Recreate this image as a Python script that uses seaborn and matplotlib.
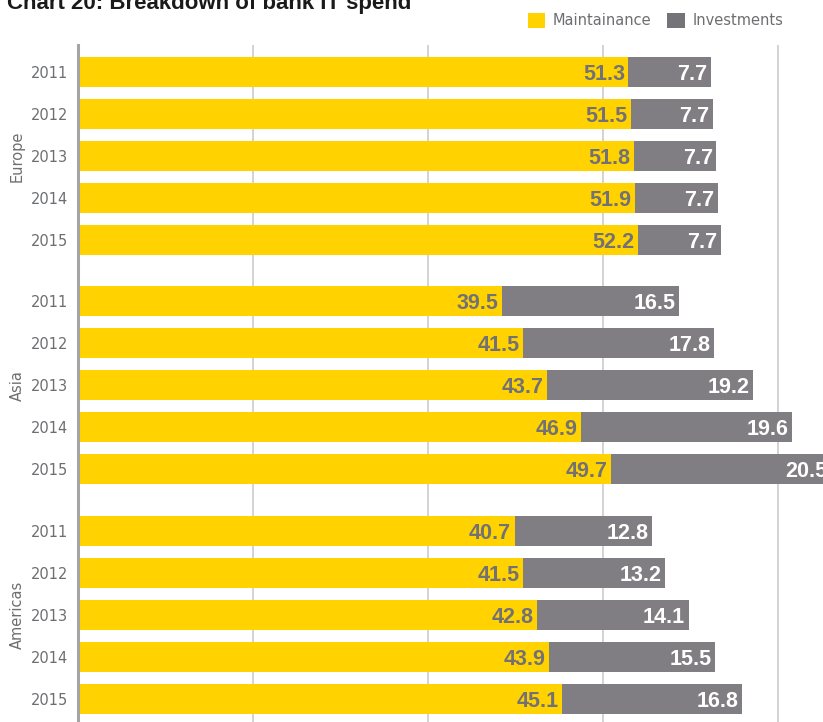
import numpy as np
import pandas as pd
import matplotlib
matplotlib.use("Agg")
import matplotlib.pyplot as plt
from matplotlib.patches import Patch
import seaborn as sns

# ---- data -------------------------------------------------------------
regions = ["Europe", "Asia", "Americas"]
years = ["2011", "2012", "2013", "2014", "2015"]
maintenance_europe = [51.3, 51.5, 51.8, 51.9, 52.2]
investments_europe = [7.7, 7.7, 7.7, 7.7, 7.7]
maintenance_asia = [39.5, 41.5, 43.7, 46.9, 49.7]
investments_asia = [16.5, 17.8, 19.2, 19.6, 20.5]
maintenance_americas = [40.7, 41.5, 42.8, 43.9, 45.1]
investments_americas = [12.8, 13.2, 14.1, 15.5, 16.8]
series_labels = ["Maintainance", "Investments"]
title = "Chart 20: Breakdown of bank IT spend"

# ---- styling ----------------------------------------------------------
YELLOW = "#FFD200"
GRAY = "#807E83"
LEGEND_GRAY = "#747378"
TEXT_GRAY = "#6D6E71"
GRID = "#D0D0D0"
GROUP_STEP = 5.46          # vertical distance between region blocks

sns.set_theme(style="white")
plt.rcParams["font.family"] = ["DejaVu Sans"]

maint = [maintenance_europe, maintenance_asia, maintenance_americas]
inv = [investments_europe, investments_asia, investments_americas]
rows = []
for gi, region in enumerate(regions):
    for yi, year in enumerate(years):
        m, i = maint[gi][yi], inv[gi][yi]
        rows.append(dict(region=region, year=year, pos=gi * GROUP_STEP + yi,
                         maintenance=m, investments=i, total=m + i))
df = pd.DataFrame(rows)

fig = plt.figure(figsize=(8.23, 7.22), dpi=100)
ax = fig.add_axes([78 / 823, 0.0, 745 / 823, 1 - 45 / 722])

# stacked bars: full total in gray, maintenance share in yellow on top
sns.barplot(data=df, x="total", y="pos", orient="h", native_scale=True,
            color=GRAY, saturation=1, width=0.714, errorbar=None, ax=ax,
            linewidth=0, zorder=3)
sns.barplot(data=df, x="maintenance", y="pos", orient="h", native_scale=True,
            color=YELLOW, saturation=1, width=0.714, errorbar=None, ax=ax,
            linewidth=0, zorder=4)

ax.set_xlim(0, 745 / 10.73)
ax.set_ylim(-0.643 + 677 / 42, -0.643)
ax.set_xticks(np.arange(1, 5) * 16.31)
ax.set_xticklabels([])
ax.set_yticks(df["pos"])
ax.set_yticklabels(df["year"], color=TEXT_GRAY, fontsize=10.5)
ax.tick_params(axis="both", length=0)
ax.tick_params(axis="y", pad=7)
ax.set_xlabel("")
ax.set_ylabel("")
ax.grid(axis="x", color=GRID, linewidth=1.3, zorder=0)
ax.grid(axis="y", visible=False)
for side in ["top", "right", "bottom"]:
    ax.spines[side].set_visible(False)
ax.spines["left"].set_color("#A5A5A5")
ax.spines["left"].set_linewidth(2.2)
ax.spines["left"].set_zorder(5)

# value labels inside the end of each segment
for _, r in df.iterrows():
    ax.annotate(f"{r.maintenance:.1f}", xy=(r.maintenance, r.pos),
                xytext=(-2.5, 0), textcoords="offset points",
                ha="right", va="center_baseline", fontsize=15.5,
                fontweight="bold", family=["Liberation Sans"],
                color="#727276", zorder=6, annotation_clip=False)
    ax.annotate(f"{r.investments:.1f}", xy=(r.total, r.pos),
                xytext=(-2.5, 0), textcoords="offset points",
                ha="right", va="center_baseline", fontsize=15.5,
                fontweight="bold", family=["Liberation Sans"],
                color="white", zorder=6, annotation_clip=False)

# region names along the left side
for gi, region in enumerate(regions):
    ax.text(-61 / 745, gi * GROUP_STEP + 2, region,
            transform=ax.get_yaxis_transform(), rotation=90,
            ha="center", va="center", fontsize=10.5, color=TEXT_GRAY)

# legend
handles = [Patch(facecolor=YELLOW, edgecolor="none"),
           Patch(facecolor=LEGEND_GRAY, edgecolor="none")]
fig.legend(handles, series_labels, loc="center right",
           bbox_to_anchor=(783 / 823, 1 - 20.5 / 722), ncol=2, frameon=False,
           fontsize=10.5, labelcolor=TEXT_GRAY, handlelength=1.2,
           handleheight=1.2, handletextpad=0.5, columnspacing=1.1,
           borderaxespad=0, borderpad=0)

fig.text(7 / 823, 1 - 9 / 722, title, ha="left", va="baseline",
         fontsize=16, fontweight="bold", color="#1A1A1A",
         family=["Liberation Sans"])

fig.savefig("out.png", dpi=100)
